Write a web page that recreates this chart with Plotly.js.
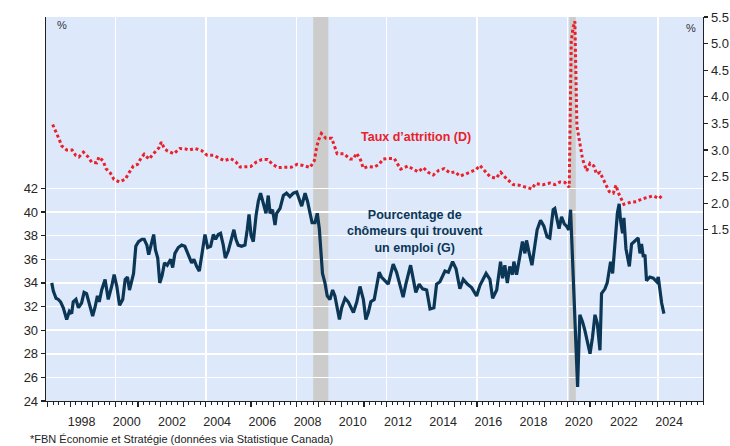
<!DOCTYPE html>
<html>
<head>
<meta charset="utf-8">
<script src="https://cdn.plot.ly/plotly-3.0.1.min.js"></script>
<style>html,body{margin:0;padding:0;background:#fff;}#chart{width:730px;height:446px;}</style>
</head>
<body>
<div id="chart"></div>
<script>
// ---- Data (decimal years) ----
// Pourcentage de chômeurs qui trouvent un emploi (G) – left axis
const findYears = [
 1997.18,1997.25,1997.37,1997.47,1997.57,1997.69,1997.84,1997.96,
 1998.06,1998.13,1998.25,1998.36,1998.50,1998.61,1998.72,1998.84,1998.99,
 1999.09,1999.20,1999.28,1999.39,1999.54,1999.68,1999.83,1999.94,
 2000.06,2000.18,2000.32,2000.43,2000.53,2000.62,2000.80,2000.90,
 2001.02,2001.17,2001.27,2001.39,2001.47,2001.58,2001.69,2001.77,2001.87,2001.96,
 2002.06,2002.17,2002.29,2002.44,2002.53,2002.63,2002.78,2002.93,
 2003.07,2003.22,2003.37,2003.47,2003.59,2003.71,2003.81,2003.96,
 2004.08,2004.21,2004.33,2004.43,2004.55,2004.65,2004.77,2004.86,2004.99,
 2005.11,2005.24,2005.33,2005.43,2005.58,2005.73,2005.83,2005.91,
 2006.00,2006.10,2006.22,2006.32,2006.42,2006.54,2006.66,2006.76,2006.84,2006.95,
 2007.06,2007.13,2007.28,2007.43,2007.57,2007.72,2007.87,
 2008.02,2008.13,2008.24,2008.39,2008.50,2008.61,2008.70,2008.83,2008.93,
 2009.02,2009.08,2009.16,2009.27,2009.37,2009.49,2009.61,2009.71,2009.82,2009.91,
 2010.01,2010.16,2010.30,2010.41,2010.53,2010.68,2010.82,2010.97,
 2011.08,2011.19,2011.30,2011.45,2011.55,2011.67,2011.77,2011.92,
 2012.07,2012.29,2012.44,2012.62,2012.73,2012.85,
 2013.06,2013.18,2013.29,2013.44,2013.59,2013.77,2013.92,
 2014.09,2014.21,2014.36,2014.58,2014.73,2014.92,
 2015.07,2015.24,2015.39,2015.57,2015.76,2015.98,
 2016.13,2016.40,2016.57,2016.69,2016.87,
 2017.04,2017.13,2017.23,2017.34,2017.45,2017.57,2017.63,2017.75,2017.87,
 2018.01,2018.12,2018.19,2018.31,2018.43,2018.53,2018.66,2018.81,2018.96,
 2019.10,2019.22,2019.37,2019.44,2019.56,2019.63,2019.74,2019.86,2019.96,
 2020.06,2020.14,2020.25,2020.35,2020.45,2020.55,2020.67,2020.77,2020.88,
 2021.00,2021.11,2021.22,2021.32,2021.44,2021.51,2021.66,2021.76,2021.91,
 2022.00,2022.10,2022.21,2022.29,2022.35,2022.44,2022.50,2022.59,2022.74,2022.84,2022.99,
 2023.13,2023.21,2023.28,2023.36,2023.43,2023.50,2023.65,2023.80,2023.95,
 2024.02,2024.09,2024.17,2024.27
];
const findValues = [
 34.0,33.3,32.7,32.6,32.4,31.9,30.9,31.6,
 31.4,32.4,32.6,31.9,32.3,33.2,33.1,32.3,31.2,
 31.9,32.9,32.4,33.4,34.3,32.6,33.7,34.7,
 33.7,32.1,32.6,34.3,34.5,33.4,34.8,37.1,
 37.5,37.7,37.7,37.2,36.4,37.4,38.1,36.8,36.1,34.0,
 34.6,35.7,35.5,36.0,35.3,36.5,37.0,37.2,
 37.1,36.4,35.7,36.0,35.4,35.0,36.3,38.1,
 37.0,37.1,38.1,37.7,38.1,38.2,37.2,36.1,36.7,
 37.7,38.5,37.7,37.2,37.1,37.2,38.5,39.8,
 38.0,37.5,39.7,40.9,41.6,40.6,39.9,41.4,39.9,40.2,
 38.9,39.9,40.3,41.4,41.6,41.3,41.6,
 41.7,41.1,40.5,41.6,40.9,39.9,39.1,39.1,39.9,
 38.6,36.8,34.8,34.0,32.9,32.6,33.4,32.9,31.9,30.9,
 31.9,32.7,32.4,32.0,31.5,32.4,33.7,32.6,
 30.9,31.5,32.4,32.6,33.7,34.9,34.5,34.2,
 33.9,35.6,34.9,33.6,32.8,33.9,
 35.5,34.3,33.2,33.9,33.5,33.4,31.8,
 31.9,33.9,34.1,35.0,34.9,35.8,
 35.2,33.5,34.3,33.9,33.6,32.9,
 33.8,34.8,34.3,32.7,33.4,
 35.8,34.4,35.5,34.0,35.4,34.7,35.8,34.7,35.9,
 37.5,36.5,37.6,36.5,35.5,36.8,38.5,39.3,38.8,
 37.9,37.8,40.2,40.3,39.2,38.6,39.6,39.0,38.8,
 38.5,40.2,35.4,29.7,25.2,31.3,30.7,30.0,28.9,
 28.0,29.4,31.3,30.6,28.3,33.1,33.5,34.0,35.8,
 34.8,37.6,39.9,40.7,39.3,38.2,39.5,36.9,35.4,37.3,37.6,
 37.8,36.5,37.3,36.2,36.4,34.2,34.5,34.4,34.1,
 34.5,33.4,32.3,31.4
];

// Taux d'attrition (D) – right axis
const attrYears = [
 1997.22,1997.37,1997.50,1997.62,1997.84,
 1998.08,1998.24,1998.38,1998.58,1998.77,1998.95,
 1999.17,1999.27,1999.46,1999.58,1999.77,1999.93,
 2000.17,2000.43,2000.61,2000.79,2000.98,
 2001.13,2001.27,2001.48,2001.72,2001.92,
 2002.03,2002.16,2002.31,2002.58,2002.85,
 2003.11,2003.25,2003.52,2003.81,
 2004.06,2004.35,2004.59,2004.81,
 2005.10,2005.32,2005.52,2005.76,2005.98,
 2006.25,2006.48,2006.73,2006.96,
 2007.19,2007.46,2007.80,
 2008.04,2008.31,2008.61,2008.80,2008.90,2008.99,
 2009.11,2009.31,2009.57,2009.65,2009.81,
 2010.11,2010.38,2010.52,2010.67,2010.85,2010.96,
 2011.19,2011.45,2011.66,2011.85,
 2012.07,2012.34,2012.62,2012.93,
 2013.18,2013.40,2013.62,2013.84,
 2014.06,2014.31,2014.55,2014.80,
 2015.02,2015.24,2015.50,2015.76,2015.95,
 2016.13,2016.35,2016.57,2016.84,
 2017.05,2017.31,2017.60,2017.86,
 2018.15,2018.42,2018.59,2018.93,
 2019.23,2019.45,2019.67,2019.89,
 2020.08,2020.17,2020.25,2020.33,2020.42,2020.55,2020.67,2020.85,
 2021.00,2021.17,2021.29,2021.44,2021.66,2021.85,
 2022.03,2022.15,2022.25,2022.50,2022.80,
 2023.06,2023.28,2023.50,2023.80,
 2024.06,2024.24
];
const attrValues = [
 3.48,3.35,3.21,3.08,3.00,
 3.00,2.90,2.87,2.96,2.88,2.77,
 2.76,2.87,2.79,2.65,2.57,2.45,
 2.40,2.45,2.58,2.70,2.73,
 2.85,2.92,2.83,2.95,3.04,
 3.15,3.03,2.98,2.93,3.03,
 3.02,3.00,3.03,2.99,
 2.90,2.90,2.85,2.80,
 2.84,2.78,2.68,2.69,2.69,
 2.78,2.82,2.82,2.73,
 2.67,2.67,2.68,
 2.73,2.71,2.67,2.80,3.05,3.19,
 3.31,3.22,3.22,3.11,2.93,
 2.93,2.83,2.83,2.94,2.81,2.66,
 2.69,2.68,2.73,2.83,
 2.84,2.84,2.64,2.70,
 2.64,2.59,2.67,2.58,
 2.53,2.62,2.65,2.57,
 2.59,2.51,2.55,2.59,2.63,
 2.71,2.61,2.50,2.47,
 2.58,2.46,2.35,2.34,
 2.30,2.27,2.37,2.35,
 2.38,2.35,2.40,2.39,
 2.30,5.05,5.30,5.42,3.45,3.14,2.83,2.61,
 2.75,2.70,2.55,2.58,2.39,2.22,
 2.19,2.34,2.20,1.98,2.02,
 2.03,2.08,2.11,2.14,
 2.09,2.17
];

// Recessions (shaded bands)
const recessionStart = [2008.75, 2020.08];
const recessionEnd   = [2009.42, 2020.37];

// Tick labels
const yearLabels = ['1998','2000','2002','2004','2006','2008','2010','2012','2014','2016','2018','2020','2022','2024'];
const leftTicks  = [24,26,28,30,32,34,36,38,40,42];
const rightTicks = [1.5,2.0,2.5,3.0,3.5,4.0,4.5,5.0,5.5];

// ---- Chart ----
const XR = [1996.925, 2026.0];
const axisColor = '#222';
const txt = '#262626';
const FONT = 'Liberation Sans, Arial, sans-serif';

const traces = [
  {x: findYears, y: findValues, type: 'scatter', mode: 'lines', xaxis: 'x', yaxis: 'y',
   line: {color: '#0b3656', width: 3.2}, hoverinfo: 'skip'},
  {x: attrYears, y: attrValues, type: 'scatter', mode: 'lines', xaxis: 'x', yaxis: 'y2',
   line: {color: '#e8212b', width: 3, dash: '3px,2.6px'}, hoverinfo: 'skip'},
  {x: [], y: [], type: 'scatter', xaxis: 'x2', yaxis: 'y', hoverinfo: 'skip'},
  {x: [], y: [], type: 'scatter', xaxis: 'x3', yaxis: 'y', hoverinfo: 'skip'}
];

const yearTicks = [];
for (let y = 1997; y <= 2025; y++) yearTicks.push(y);

const shapes = recessionStart.map((s, i) => ({
  type: 'rect', xref: 'x', yref: 'paper', x0: s, x1: recessionEnd[i], y0: 0, y1: 1,
  fillcolor: '#cccccc', line: {width: 0}, layer: 'between'
}));

const layout = {
  width: 730, height: 446,
  margin: {l: 46, r: 27, t: 17, b: 45, pad: 0},
  paper_bgcolor: '#ffffff',
  plot_bgcolor: '#dde9fb',
  showlegend: false,
  font: {family: FONT, size: 13, color: txt},
  xaxis: {
    range: XR, tick0: 2000, dtick: 4, showgrid: true, gridcolor: '#ffffff', gridwidth: 1.5,
    ticks: '', showticklabels: false, zeroline: false,
    showline: true, linecolor: axisColor, linewidth: 1.3,
    minor: {dtick: 0.25, ticks: 'outside', ticklen: 3, tickcolor: axisColor, tickwidth: 1, showgrid: false}
  },
  xaxis2: {
    overlaying: 'x', anchor: 'y', side: 'bottom', range: XR,
    tickmode: 'array', tickvals: yearTicks, ticks: 'outside', ticklen: 5, tickwidth: 1.2,
    tickcolor: axisColor, showticklabels: false, showgrid: false, showline: false, zeroline: false
  },
  xaxis3: {
    overlaying: 'x', anchor: 'y', side: 'bottom', range: XR,
    tickmode: 'array', tickvals: yearLabels.map(l => +l + 0.5), ticktext: yearLabels,
    ticks: 'outside', ticklen: 9, tickcolor: 'rgba(0,0,0,0)',
    showgrid: false, showline: false, zeroline: false,
    tickfont: {family: FONT, size: 12.5, color: txt}
  },
  yaxis: {
    range: [24, 56.52], tickmode: 'array', tickvals: leftTicks,
    showgrid: true, gridcolor: '#ffffff', gridwidth: 1.5, zeroline: false,
    ticks: 'outside', ticklen: 4, tickcolor: axisColor, tickwidth: 1.2,
    showline: true, linecolor: axisColor, linewidth: 1.3,
    tickfont: {family: FONT, size: 13, color: txt}
  },
  yaxis2: {
    overlaying: 'y', side: 'right', anchor: 'x', range: [-1.716, 5.5],
    tickmode: 'array', tickvals: rightTicks, ticktext: rightTicks.map(v => v.toFixed(1)),
    showgrid: false, zeroline: false,
    ticks: 'outside', ticklen: 4, tickcolor: axisColor, tickwidth: 1.2,
    showline: true, linecolor: axisColor, linewidth: 1.3,
    tickfont: {family: FONT, size: 13, color: txt}
  },
  shapes: shapes,
  annotations: [
    {xref: 'x', yref: 'y2', x: 2013.28, y: 3.25, text: 'Taux d\u2019attrition (D)', showarrow: false,
     font: {family: FONT, size: 12.5, color: '#e8212b', weight: 'bold'}, xanchor: 'center', yanchor: 'middle'},
    {xref: 'x', yref: 'y', x: 2013.27, y: 38.35, text: '<b>Pourcentage de<br>chômeurs qui trouvent<br>un emploi (G)</b>',
     showarrow: false, align: 'center', font: {family: FONT, size: 12.5, color: '#0b3656'},
     xanchor: 'center', yanchor: 'middle'},
    {xref: 'paper', yref: 'paper', x: 0.0244, y: 0.979, text: '%', showarrow: false,
     font: {family: FONT, size: 11, color: '#333'}, xanchor: 'center', yanchor: 'middle'},
    {xref: 'paper', yref: 'paper', x: 0.982, y: 0.971, text: '%', showarrow: false,
     font: {family: FONT, size: 11, color: '#333'}, xanchor: 'center', yanchor: 'middle'},
    {xref: 'paper', yref: 'paper', x: -0.0274, y: -0.099, text: '*FBN Économie et Stratégie (données via Statistique Canada)',
     showarrow: false, font: {family: FONT, size: 11, color: '#222'}, xanchor: 'left', yanchor: 'middle'}
  ]
};

Plotly.newPlot('chart', traces, layout, {staticPlot: true, displayModeBar: false});
</script>
</body>
</html>
